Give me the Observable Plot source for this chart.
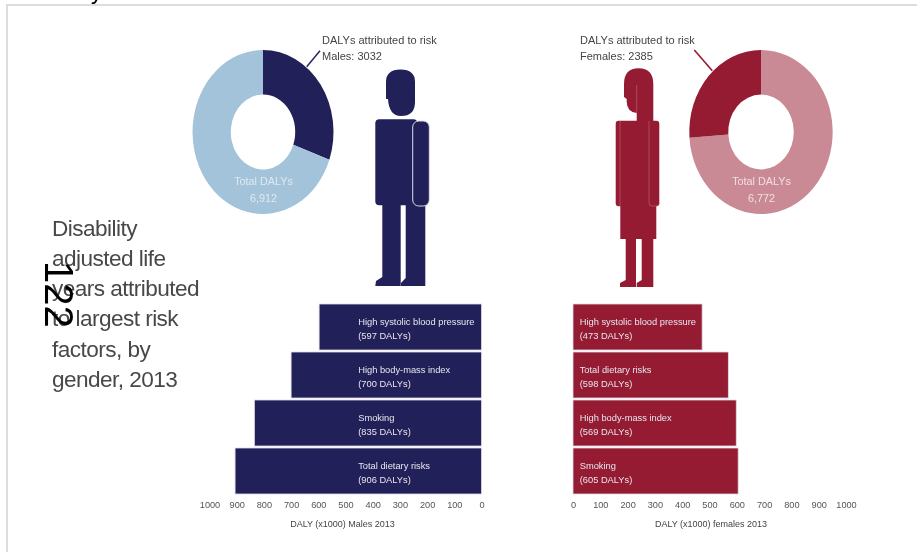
<!DOCTYPE html>
<html><head><meta charset="utf-8">
<script src="https://cdn.jsdelivr.net/npm/d3@7"></script>
<script src="https://cdn.jsdelivr.net/npm/@observablehq/plot@0.6"></script>
<style>
html,body{margin:0;padding:0;background:#fff;overflow:hidden}
#page{position:relative;width:917px;height:552px;overflow:hidden;font-family:"Liberation Sans",sans-serif;filter:blur(.45px)}
#page>*{position:absolute}
#page svg, #page svg text{font-family:"Liberation Sans",sans-serif !important}
#frame{left:6px;top:4px;width:911px;height:548px;border-left:2px solid #ddd;border-top:2px solid #ddd;box-sizing:border-box}
#title{left:52px;top:213.5px;width:160px;font-size:22.6px;line-height:30.3px;color:#484848;letter-spacing:-.55px}
#page-no{left:44px;top:261px;font-size:40px;line-height:30px;color:#000;writing-mode:vertical-rl;white-space:nowrap}
#cut{left:91px;top:-21px;font-size:23px;line-height:24px;color:#000}
.note{font-size:11px;line-height:16.5px;color:#444;white-space:nowrap}
svg{overflow:visible}
</style></head><body>
<div id="page">
<div id="frame"></div>
<div id="cut">y</div>
<div id="title">Disability adjusted life years attributed to largest risk factors, by gender, 2013</div>
<div id="page-no">122</div>
<div class="note" style="left:322px;top:31.5px">DALYs attributed to risk<br>Males: 3032</div>
<div class="note" style="left:580px;top:31.5px">DALYs attributed to risk<br>Females: 2385</div>
</div>
<script>
const maleRisks = ["High systolic blood pressure", "High body-mass index", "Smoking", "Total dietary risks"];
const maleValues = [597, 700, 835, 906];
const femaleRisks = ["High systolic blood pressure", "Total dietary risks", "High body-mass index", "Smoking"];
const femaleValues = [473, 569, 598, 605];
const femaleLabelValues = [473, 598, 569, 605];
const xTicks = [0, 100, 200, 300, 400, 500, 600, 700, 800, 900, 1000];
const maleSlices = [30.5, 69.5];
const femaleSlices = [73.9, 26.1];
const navy = "#222059", paleBlue = "#a2c3d9", crimson = "#941b31", paleRed = "#c98a96";

const page = document.getElementById("page");
function place(node, left, top) {
  node.style.left = left + "px"; node.style.top = top + "px"; page.append(node);
}

function donut(slices, colors, total, textColor, sideMargin) {
  const slice = (index, {x, y}) => {
    const g = d3.create("svg:g")
      .attr("transform", `translate(${x(0)},${y(0)}) scale(${x(1) - x(0)},${y(-1) - y(0)})`);
    const arc = d3.arc().innerRadius(0.457).outerRadius(1);
    g.selectAll("path").data(d3.pie().sort(null)(slices)).join("path")
      .attr("d", arc).attr("fill", (d, i) => colors[i]);
    return g.node();
  };
  return Plot.plot({
    width: 160, height: 180, margin: 0, marginLeft: sideMargin, marginRight: sideMargin, marginTop: 8, marginBottom: 8,
    x: {domain: [-1, 1], axis: null}, y: {domain: [-1, 1], axis: null},
    marks: [
      slice,
      Plot.text([`Total DALYs\n${total}`], {x: () => 0, y: () => 0, dy: 55.5, text: d => d,
        fontSize: 10.8, lineHeight: 1.55, fill: textColor})
    ]
  });
}

function bars(risks, values, labels, color, reversed, title, titleShift) {
  const rows = risks.map((risk, i) => ({risk, value: values[i], label: labels[i]}));
  return Plot.plot({
    width: 305, height: 250,
    marginLeft: reversed ? 19.5 : 8, marginRight: reversed ? 13.5 : 24,
    marginTop: 7.8, marginBottom: 49.2,
    style: {background: "transparent"},
    x: {domain: reversed ? [1000, 0] : [0, 1000]},
    y: {domain: risks, axis: null, paddingInner: 0.045, paddingOuter: 0, align: 0.5},
    marks: [
      Plot.barX(rows, {y: "risk", x: "value", fill: color, stroke: "#dcdcea", strokeWidth: 0.8}),
      Plot.text(rows, {y: "risk", x: () => 0, dx: reversed ? -123.8 : 6.2, textAnchor: "start",
        text: d => `${d.risk}\n(${d.label} DALYs)`, fill: "#e6e6ee", fontSize: 9.3, lineHeight: 1.5}),
      Plot.axisX({ticks: xTicks, tickSize: 0, tickPadding: 5.5, tickFormat: d3.format("d"),
        fontSize: 9.2, fill: "#555", label: null}),
      Plot.text([title], {frameAnchor: "bottom", dy: 31, dx: titleShift, text: d => d, fontSize: 9, fill: "#444"})
    ]
  });
}

place(donut(maleSlices, [navy, paleBlue], "6,912", "#dfe9f0", 9.5), 183, 42);
place(donut(femaleSlices, [paleRed, crimson], "6,772", "#f3dfe3", 8.3), 681, 42);
place(bars(maleRisks, maleValues, maleValues, navy, true, "DALY (x1000) Males 2013", -3.5), 190, 295);
place(bars(femaleRisks, femaleValues, femaleLabelValues, crimson, false, "DALY (x1000) females 2013", 1), 565, 295);

// Pictograms and leader lines (decoration, not data)
const art = d3.create("svg").attr("width", 917).attr("height", 552).style("left", 0).style("top", 0);
const edge = "#dcdcea", redEdge = "#c06a7c";
const male = art.append("g").attr("fill", navy);
male.append("path").attr("d", "M386,99V82Q386,69.5 400.5,69.5Q415,69.5 415,82V102Q415,116 401,116Q389,116 388,99Z");
male.append("rect").attr("x", 375.3).attr("y", 119.3).attr("width", 42).attr("height", 86).attr("rx", 4);
male.append("path").attr("d", "M382.3,204H400.7V286H375.3L376,281L382.3,277Z");
male.append("path").attr("d", "M405.7,204H425.3V286H401V283L405.7,278Z");
male.append("rect").attr("x", 412.7).attr("y", 121).attr("width", 16.6).attr("height", 85).attr("rx", 6).attr("stroke", edge).attr("stroke-width", 1);
const female = art.append("g").attr("fill", crimson);
female.append("path").attr("d", "M624,97V84Q624,68.3 638.5,68.3Q653.3,68.3 653.3,84V121H636.7V113Q627,112 626.7,102V99Z");
female.append("rect").attr("x", 615.7).attr("y", 120.7).attr("width", 43.6).attr("height", 85.5).attr("rx", 3);
female.append("rect").attr("x", 620.3).attr("y", 205).attr("width", 36).attr("height", 34);
female.append("path").attr("d", "M625.7,238H636V287H620V283L625.7,280Z");
female.append("path").attr("d", "M641.7,238H653.3V287H636.7V283L641.7,280Z");
female.append("path").attr("fill", "none").attr("stroke", redEdge).attr("stroke-width", 0.6)
  .attr("d", "M620,121V206M649,121V203Q649,206 652,206H656Q659.3,206 659.3,203M636.7,85V113");
art.append("line").attr("x1", 306.7).attr("y1", 66.7).attr("x2", 320).attr("y2", 50.7).attr("stroke", navy).attr("stroke-width", 1.4);
art.append("line").attr("x1", 694.3).attr("y1", 50).attr("x2", 712.3).attr("y2", 70.7).attr("stroke", crimson).attr("stroke-width", 1.6);
page.append(art.node());
</script>
</body></html>
